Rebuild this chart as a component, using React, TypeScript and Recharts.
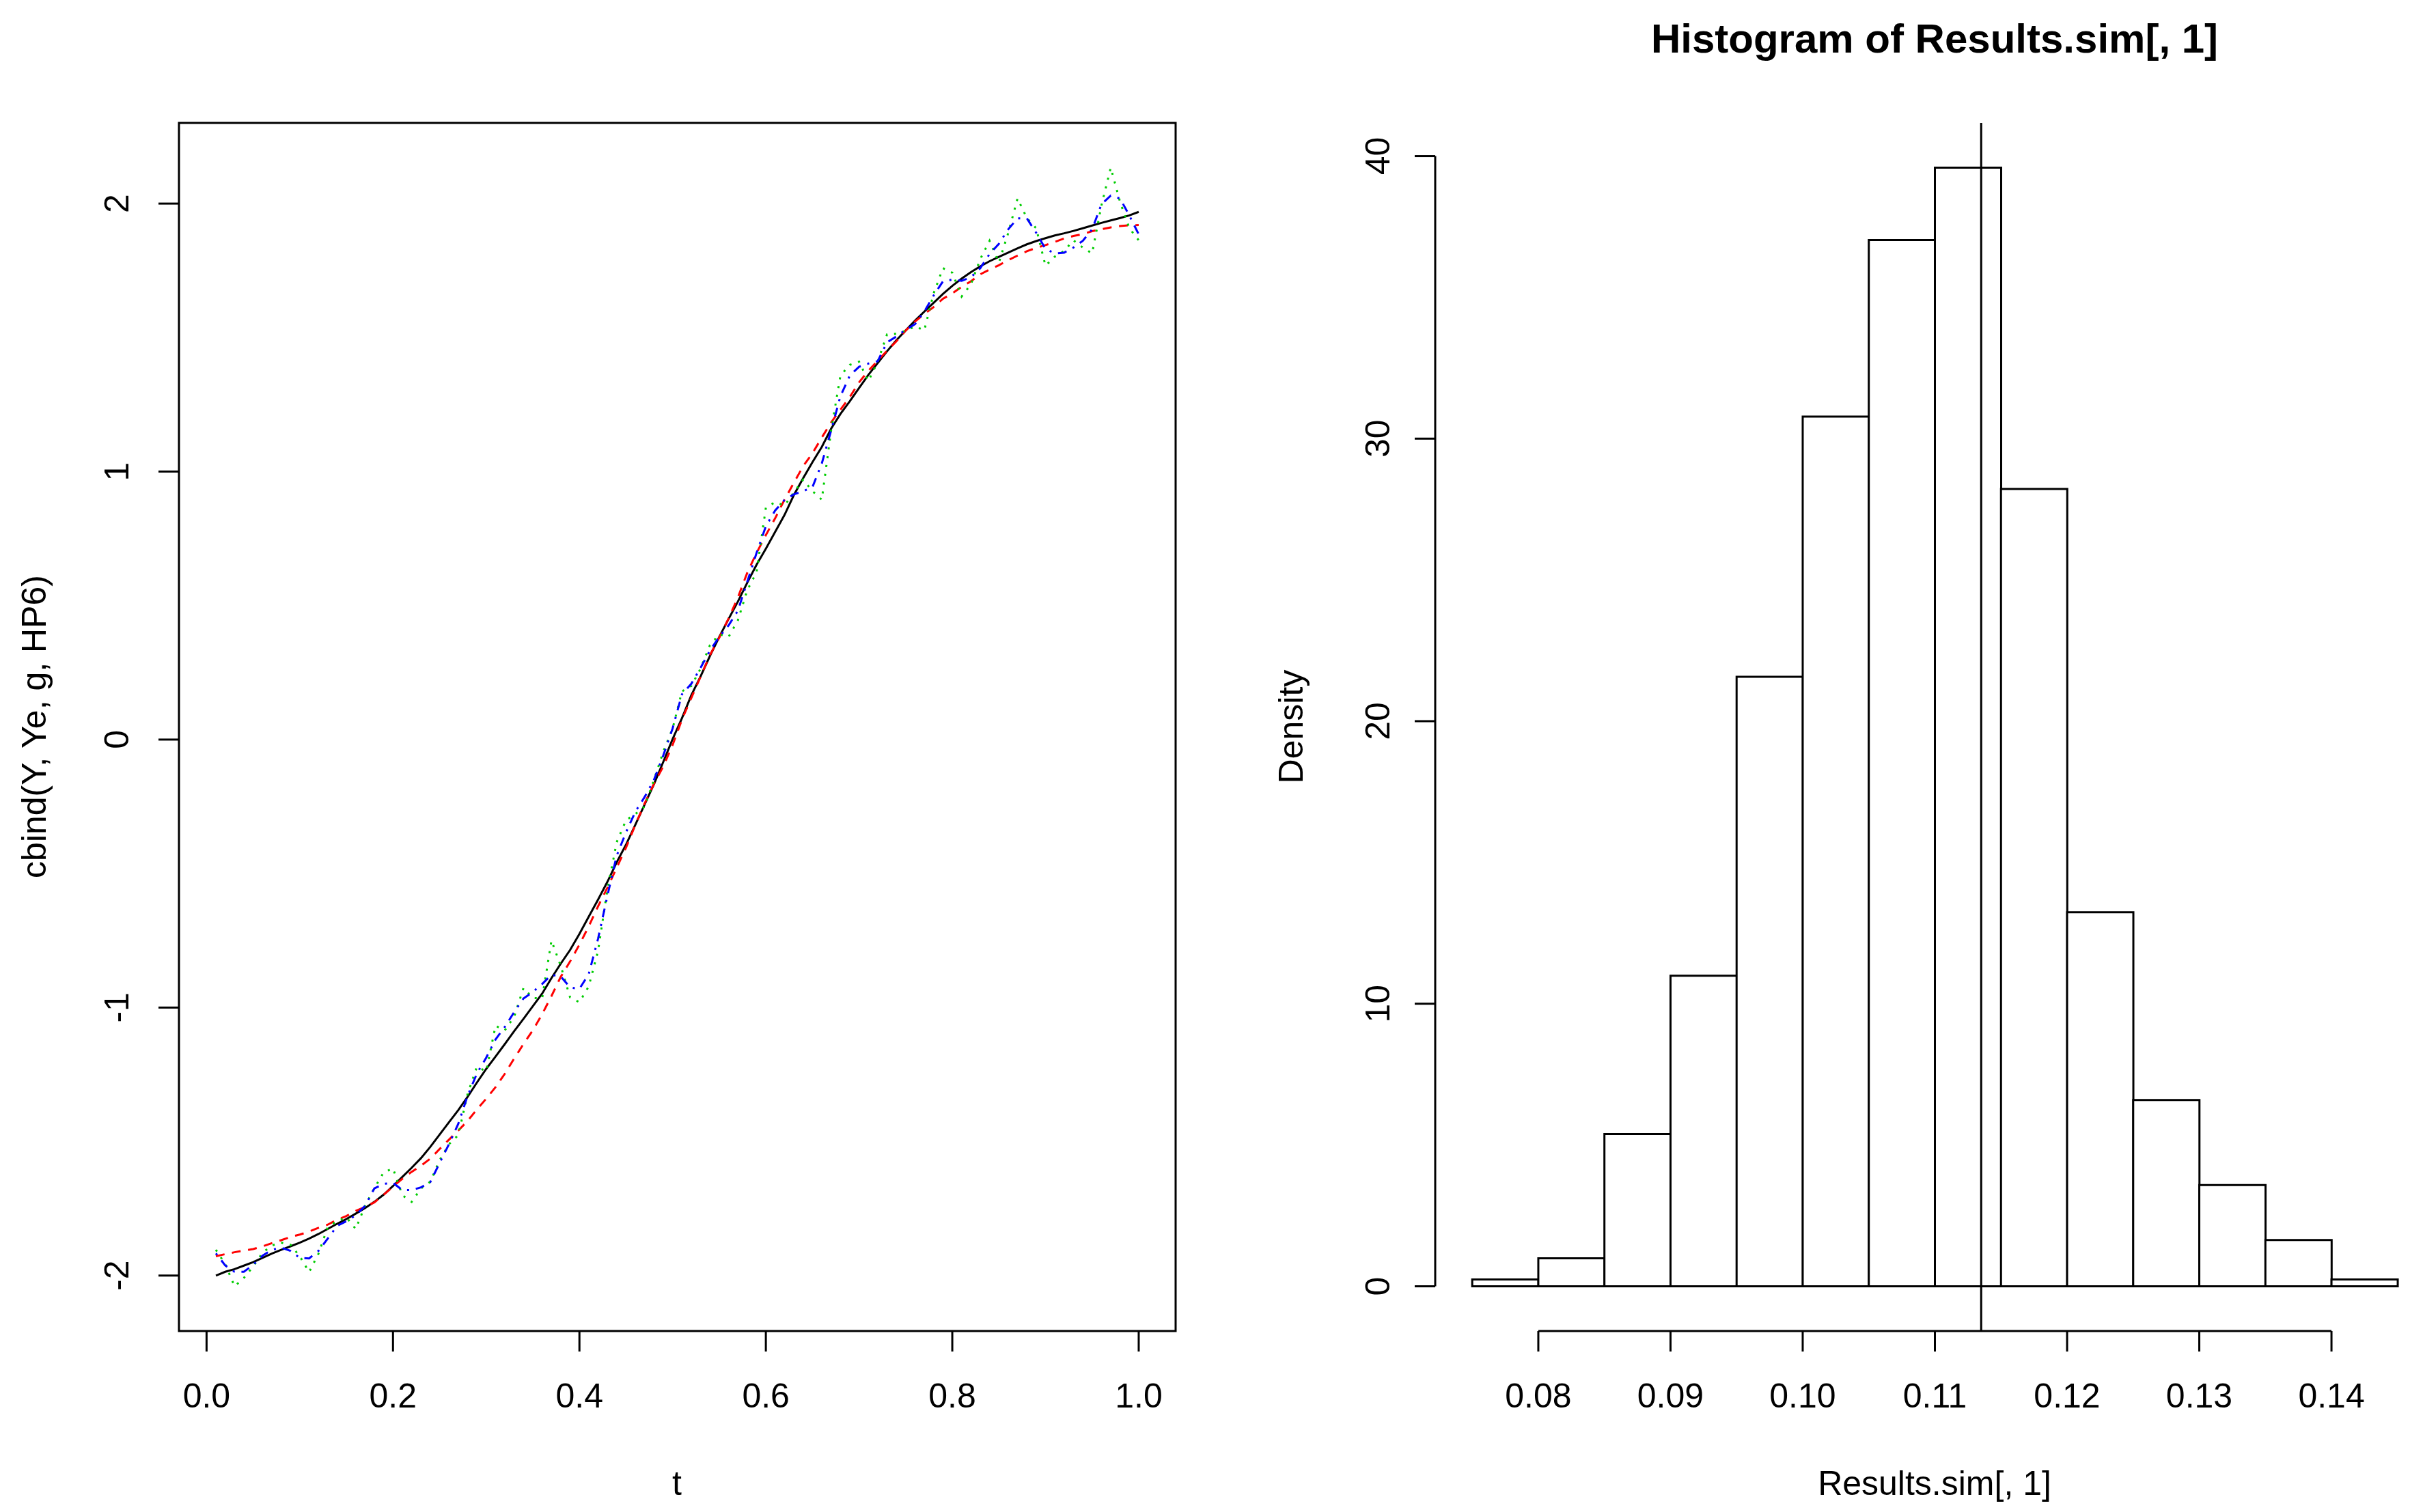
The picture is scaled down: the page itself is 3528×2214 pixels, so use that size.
import React from "react";
import {
  LineChart,
  Line,
  XAxis,
  YAxis,
  ReferenceArea,
  ReferenceLine,
  ComposedChart,
  Bar,
} from "recharts";

const FONT = "'Liberation Sans', Arial, Helvetica, sans-serif";

// left panel: matplot(t, cbind(Y, Ye, g, HP6))
const T = [
  0.01, 0.02, 0.03, 0.04, 0.05, 0.06, 0.07, 0.08, 0.09, 0.1,
  0.11, 0.12, 0.13, 0.14, 0.15, 0.16, 0.17, 0.18, 0.19, 0.2,
  0.21, 0.22, 0.23, 0.24, 0.25, 0.26, 0.27, 0.28, 0.29, 0.3,
  0.31, 0.32, 0.33, 0.34, 0.35, 0.36, 0.37, 0.38, 0.39, 0.4,
  0.41, 0.42, 0.43, 0.44, 0.45, 0.46, 0.47, 0.48, 0.49, 0.5,
  0.51, 0.52, 0.53, 0.54, 0.55, 0.56, 0.57, 0.58, 0.59, 0.6,
  0.61, 0.62, 0.63, 0.64, 0.65, 0.66, 0.67, 0.68, 0.69, 0.7,
  0.71, 0.72, 0.73, 0.74, 0.75, 0.76, 0.77, 0.78, 0.79, 0.8,
  0.81, 0.82, 0.83, 0.84, 0.85, 0.86, 0.87, 0.88, 0.89, 0.9,
  0.91, 0.92, 0.93, 0.94, 0.95, 0.96, 0.97, 0.98, 0.99, 1.0,
];

const Y = [
  -2.0, -1.986, -1.976, -1.963, -1.95, -1.934, -1.918, -1.904, -1.891, -1.877,
  -1.862, -1.845, -1.826, -1.807, -1.789, -1.769, -1.748, -1.725, -1.698, -1.666,
  -1.632, -1.598, -1.562, -1.52, -1.474, -1.428, -1.383, -1.333, -1.28, -1.229,
  -1.183, -1.136, -1.088, -1.042, -0.995, -0.948, -0.89, -0.836, -0.785, -0.725,
  -0.661, -0.597, -0.531, -0.458, -0.392, -0.318, -0.242, -0.166, -0.083, 0.002,
  0.08, 0.165, 0.236, 0.312, 0.383, 0.45, 0.515, 0.585, 0.652, 0.712,
  0.775, 0.838, 0.912, 0.975, 1.035, 1.092, 1.16, 1.215, 1.262, 1.312,
  1.361, 1.405, 1.449, 1.49, 1.527, 1.563, 1.597, 1.63, 1.663, 1.693,
  1.72, 1.744, 1.766, 1.785, 1.801, 1.817, 1.833, 1.848, 1.86, 1.871,
  1.881, 1.889, 1.898, 1.908, 1.918, 1.928, 1.937, 1.946, 1.956, 1.969,
];

const YE = [
  -1.928, -1.92, -1.913, -1.907, -1.901, -1.891, -1.879, -1.868, -1.856, -1.847,
  -1.836, -1.822, -1.81, -1.792, -1.778, -1.759, -1.744, -1.727, -1.698, -1.668,
  -1.639, -1.613, -1.59, -1.564, -1.528, -1.493, -1.459, -1.423, -1.38, -1.34,
  -1.297, -1.247, -1.19, -1.136, -1.085, -1.025, -0.957, -0.885, -0.828, -0.765,
  -0.697, -0.622, -0.553, -0.478, -0.403, -0.318, -0.238, -0.165, -0.1, -0.02,
  0.075, 0.155, 0.235, 0.315, 0.38, 0.452, 0.53, 0.622, 0.696, 0.763,
  0.826, 0.895, 0.958, 1.02, 1.068, 1.127, 1.183, 1.231, 1.278, 1.333,
  1.376, 1.414, 1.451, 1.486, 1.526, 1.56, 1.588, 1.614, 1.645, 1.665,
  1.689, 1.71, 1.736, 1.754, 1.77, 1.789, 1.806, 1.822, 1.835, 1.845,
  1.857, 1.87, 1.879, 1.886, 1.897, 1.904, 1.911, 1.916, 1.919, 1.92,
];

const G = [
  -1.904, -1.957, -2.04, -2.009, -1.966, -1.915, -1.888, -1.877, -1.885, -1.928,
  -1.987, -1.919, -1.819, -1.797, -1.783, -1.826, -1.74, -1.674, -1.615, -1.6,
  -1.7, -1.725, -1.675, -1.65, -1.57, -1.51, -1.476, -1.323, -1.221, -1.238,
  -1.068, -1.085, -1.034, -0.927, -0.964, -0.966, -0.75, -0.845, -0.962, -0.98,
  -0.921, -0.788, -0.56, -0.383, -0.301, -0.278, -0.25, -0.15, -0.045, 0.042,
  0.18, 0.2, 0.265, 0.352, 0.393, 0.383, 0.445, 0.557, 0.624, 0.865,
  0.886, 0.873, 0.922, 0.97, 0.927, 0.895, 1.153, 1.358, 1.398, 1.41,
  1.338, 1.41, 1.512, 1.514, 1.525, 1.542, 1.527, 1.665, 1.759, 1.742,
  1.653, 1.699, 1.793, 1.861, 1.78, 1.89, 2.019, 1.946, 1.908, 1.768,
  1.802, 1.823, 1.863, 1.836, 1.814, 1.993, 2.134, 2.006, 1.908, 1.863,
];

const HP6 = [
  -1.917, -1.962, -1.986, -1.986, -1.96, -1.926, -1.904, -1.896, -1.908, -1.934,
  -1.936, -1.908, -1.862, -1.815, -1.797, -1.775, -1.74, -1.675, -1.658, -1.654,
  -1.681, -1.681, -1.671, -1.651, -1.58, -1.51, -1.434, -1.33, -1.246, -1.187,
  -1.119, -1.072, -1.017, -0.966, -0.942, -0.912, -0.878, -0.884, -0.925, -0.93,
  -0.875, -0.743, -0.583, -0.433, -0.346, -0.269, -0.214, -0.15, -0.059, 0.042,
  0.169, 0.208, 0.268, 0.332, 0.383, 0.426, 0.481, 0.588, 0.696, 0.796,
  0.855, 0.894, 0.915, 0.927, 0.942, 1.03, 1.153, 1.281, 1.358, 1.391,
  1.403, 1.412, 1.482, 1.504, 1.529, 1.55, 1.597, 1.657, 1.71, 1.716,
  1.712, 1.725, 1.759, 1.812, 1.85, 1.904, 1.945, 1.945, 1.891, 1.831,
  1.814, 1.817, 1.836, 1.861, 1.904, 1.997, 2.03, 2.019, 1.955, 1.885,
];

const LEFT_X_TICKS = [0, 0.2, 0.4, 0.6, 0.8, 1];
const LEFT_Y_TICKS = [-2, -1, 0, 1, 2];

// right panel: hist(Results.sim[, 1], freq = FALSE)
const BREAKS = [
  0.075, 0.08, 0.085, 0.09, 0.095, 0.1, 0.105, 0.11,
  0.115, 0.12, 0.125, 0.13, 0.135, 0.14, 0.145,
];
const DENSITY = [
  0.24, 0.99, 5.39, 10.99, 21.57, 30.78, 37.03,
  39.59, 28.22, 13.24, 6.59, 3.58, 1.64, 0.24,
];
const HIST_X_TICKS = [0.08, 0.09, 0.1, 0.11, 0.12, 0.13, 0.14];
const HIST_Y_TICKS = [0, 10, 20, 30, 40];
const ABLINE_V = 0.1135;

// R's default 4% axis extension
function pad4(values: number[]): [number, number] {
  const lo = Math.min(...values);
  const hi = Math.max(...values);
  const d = (hi - lo) * 0.04;
  return [lo - d, hi + d];
}

const leftData = T.map((t, i) => ({ t, Y: Y[i], Ye: YE[i], g: G[i], HP6: HP6[i] }));
const leftX = pad4(T);
const leftY = pad4([...Y, ...YE, ...G, ...HP6]);

const histData = DENSITY.map((density, i) => ({
  mid: (BREAKS[i] + BREAKS[i + 1]) / 2,
  density,
}));
const histX = pad4(BREAKS);
const histY = pad4([0, ...DENSITY]);

const TICK_LINE = { stroke: "#000", strokeWidth: 3 };

const xTick = (digits: number) => (props: any) => {
  const { x, y, payload } = props;
  return (
    <text x={x} y={y + 80} textAnchor="middle" fontSize={50} fontFamily={FONT} fill="#000">
      {Number(payload.value).toFixed(digits)}
    </text>
  );
};

const yTick = (shift: number) => (props: any) => {
  const { x, y, payload } = props;
  const bx = x + shift;
  return (
    <text
      x={bx}
      y={y}
      transform={`rotate(-90 ${bx} ${y})`}
      textAnchor="middle"
      fontSize={50}
      fontFamily={FONT}
      fill="#000"
    >
      {String(payload.value)}
    </text>
  );
};

function MatPlot() {
  return (
    <LineChart
      width={1760}
      height={2214}
      data={leftData}
      margin={{ top: 180, right: 39, bottom: 205, left: 202 }}
    >
      <XAxis
        dataKey="t"
        type="number"
        domain={leftX}
        ticks={LEFT_X_TICKS}
        allowDataOverflow
        axisLine={false}
        tickLine={TICK_LINE}
        tickSize={30}
        tickMargin={2}
        height={60}
        tick={xTick(1)}
        interval={0}
      />
      <YAxis
        type="number"
        domain={leftY}
        ticks={LEFT_Y_TICKS}
        allowDataOverflow
        axisLine={false}
        tickLine={TICK_LINE}
        tickSize={30}
        tickMargin={2}
        width={60}
        tick={yTick(-42)}
        interval={0}
      />
      <Line type="linear" dataKey="Y" stroke="#000000" strokeWidth={3} dot={false} isAnimationActive={false} />
      <Line type="linear" dataKey="Ye" stroke="#ff0000" strokeWidth={3} strokeDasharray="13 11" dot={false} isAnimationActive={false} />
      <Line type="linear" dataKey="g" stroke="#00cd00" strokeWidth={3} strokeDasharray="3 10" dot={false} isAnimationActive={false} />
      <Line type="linear" dataKey="HP6" stroke="#0000ff" strokeWidth={3} strokeDasharray="3 10 13 10" dot={false} isAnimationActive={false} />
      <ReferenceArea
        x1={leftX[0]}
        x2={leftX[1]}
        y1={leftY[0]}
        y2={leftY[1]}
        fill="none"
        stroke="#000"
        strokeWidth={3}
        ifOverflow="visible"
      />
    </LineChart>
  );
}

function Histogram() {
  const lastY = HIST_Y_TICKS[HIST_Y_TICKS.length - 1];
  const firstX = HIST_X_TICKS[0];
  const lastX = HIST_X_TICKS[HIST_X_TICKS.length - 1];
  return (
    <ComposedChart
      width={1840}
      height={2214}
      data={histData}
      barCategoryGap={0}
      barGap={0}
      margin={{ top: 180, right: 36, bottom: 205, left: 281 }}
    >
      <XAxis
        dataKey="mid"
        type="number"
        domain={histX}
        ticks={HIST_X_TICKS}
        allowDataOverflow
        axisLine={false}
        tickLine={TICK_LINE}
        tickSize={30}
        tickMargin={2}
        height={60}
        tick={xTick(2)}
        interval={0}
      />
      <YAxis
        type="number"
        domain={histY}
        ticks={HIST_Y_TICKS}
        allowDataOverflow
        axisLine={false}
        tickLine={TICK_LINE}
        tickSize={30}
        tickMargin={2}
        width={60}
        tick={yTick(-35)}
        interval={0}
      />
      <Bar dataKey="density" fill="#ffffff" stroke="#000000" strokeWidth={3} isAnimationActive={false} />
      <ReferenceLine
        segment={[{ x: histX[0], y: HIST_Y_TICKS[0] }, { x: histX[0], y: lastY }]}
        stroke="#000"
        strokeWidth={3}
        ifOverflow="visible"
      />
      <ReferenceLine
        segment={[{ x: firstX, y: histY[0] }, { x: lastX, y: histY[0] }]}
        stroke="#000"
        strokeWidth={3}
        ifOverflow="visible"
      />
      <ReferenceLine x={ABLINE_V} stroke="#000" strokeWidth={3} ifOverflow="visible" />
    </ComposedChart>
  );
}

export default function App() {
  return (
    <div
      style={{
        position: "absolute",
        left: 0,
        top: 0,
        width: 3528,
        height: 2214,
        overflow: "hidden",
        background: "#fff",
      }}
    >
      <div style={{ position: "absolute", left: 0, top: 0 }}>
        <MatPlot />
      </div>
      <div style={{ position: "absolute", left: 1760, top: 0 }}>
        <Histogram />
      </div>
      <svg
        width={3528}
        height={2214}
        style={{ position: "absolute", left: 0, top: 0, pointerEvents: "none" }}
      >
        <text x={2832} y={77} textAnchor="middle" fontSize={60} fontWeight="bold" fontFamily={FONT} fill="#000">
          Histogram of Results.sim[, 1]
        </text>
        <text x={991} y={2189} textAnchor="middle" fontSize={50} fontFamily={FONT} fill="#000">
          t
        </text>
        <text x={2832} y={2189} textAnchor="middle" fontSize={50} fontFamily={FONT} fill="#000">
          Results.sim[, 1]
        </text>
        <text
          x={67}
          y={1064}
          transform="rotate(-90 67 1064)"
          textAnchor="middle"
          fontSize={50}
          fontFamily={FONT}
          fill="#000"
        >
          cbind(Y, Ye, g, HP6)
        </text>
        <text
          x={1907}
          y={1064}
          transform="rotate(-90 1907 1064)"
          textAnchor="middle"
          fontSize={50}
          fontFamily={FONT}
          fill="#000"
        >
          Density
        </text>
      </svg>
    </div>
  );
}
